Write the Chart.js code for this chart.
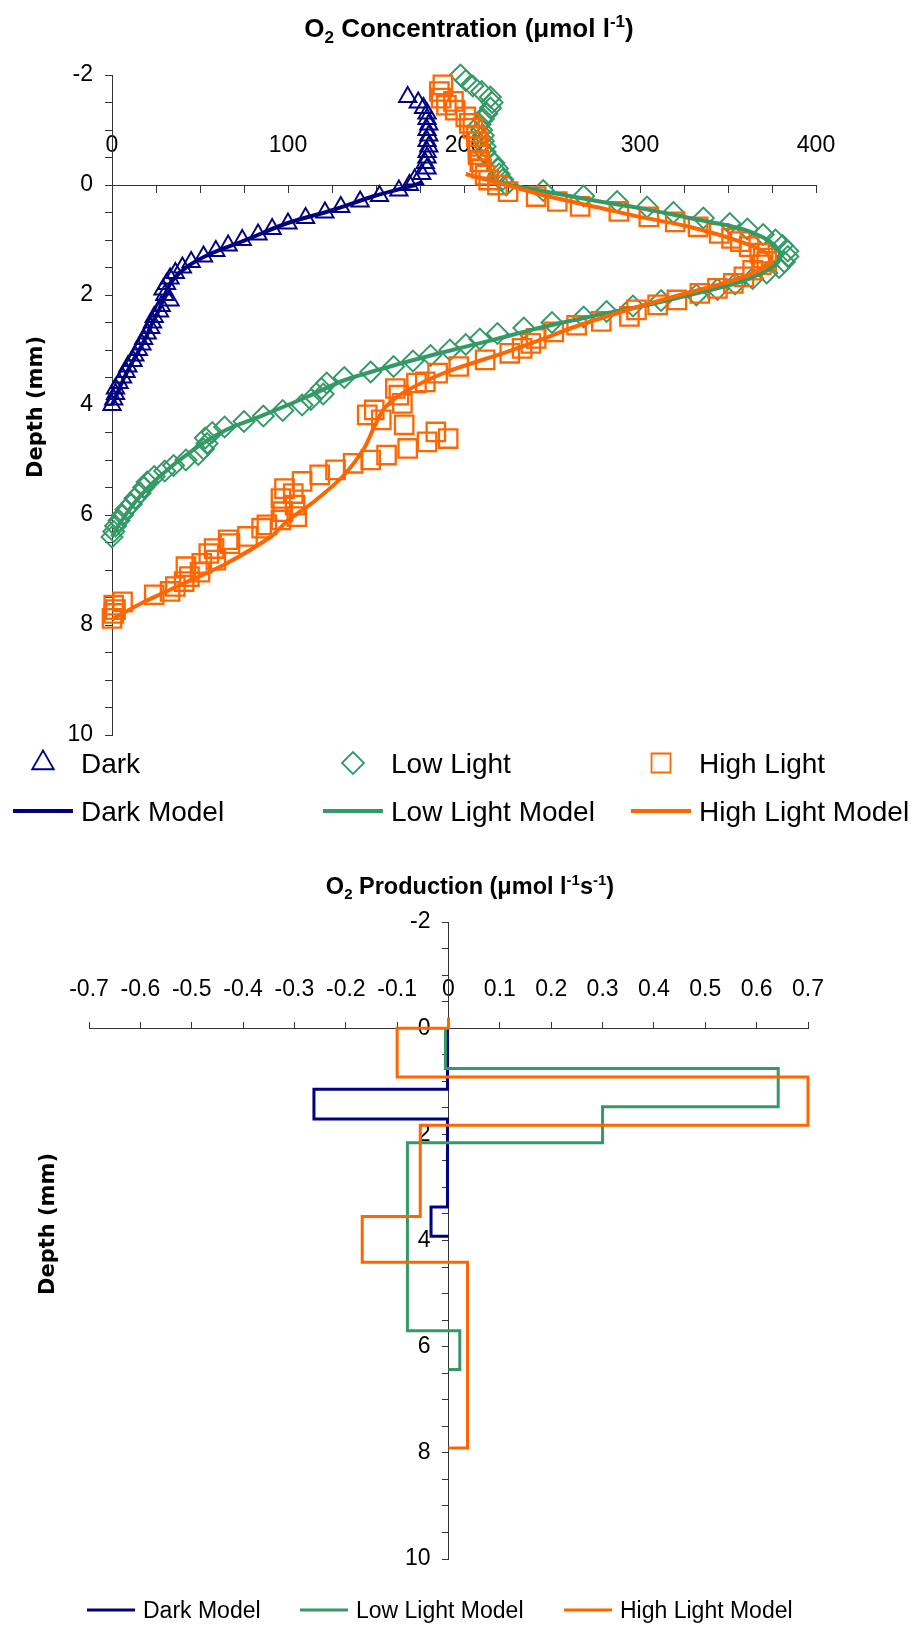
<!DOCTYPE html>
<html lang="en">
<head>
<meta charset="utf-8">
<title>O2 concentration and production profiles</title>
<script src="https://cdn.jsdelivr.net/npm/chart.js@4.4.1/dist/chart.umd.min.js"></script>
<style>
  html, body { margin: 0; padding: 0; background: #fff; }
  .panel { position: relative; width: 914px; }
  #concBox { height: 840px; }
  #prodBox { height: 794px; }
</style>
</head>
<body>
<div class="panel" id="concBox"><canvas id="concChart"></canvas></div>
<div class="panel" id="prodBox"><canvas id="prodChart"></canvas></div>
<script>
// measured O2 profiles: depth in mm (negative = above the surface), O2 in umol/l
const darkDepth = [-1.6, -1.5, -1.4, -1.3, -1.2, -1.1, -1.0, -0.9, -0.8, -0.7, -0.6, -0.5, -0.4, -0.3, -0.2, -0.1, 0,
  0.1, 0.2, 0.3, 0.4, 0.5, 0.6, 0.7, 0.8, 0.9, 1.0, 1.1, 1.2, 1.3, 1.4, 1.5, 1.6, 1.7, 1.8, 1.9, 2.0,
  2.1, 2.2, 2.3, 2.4, 2.5, 2.6, 2.7, 2.8, 2.9, 3.0, 3.1, 3.2, 3.3, 3.4, 3.5, 3.6, 3.7, 3.8, 3.9, 4.0];
const darkO2 = [168, 174, 177, 179, 179, 180, 179, 180, 179, 180, 179, 179, 178, 179, 176, 172, 169,
  163, 152, 141, 130, 121, 110, 100, 91, 83, 74, 66, 59, 52, 45, 40, 36, 33, 31, 29, 30,
  33, 28, 27, 24, 23, 22, 20, 18, 17, 15, 13, 12, 9, 8, 6, 4, 2, 2, 1, 0];

const lowDepth = [-2.0, -1.9, -1.8, -1.7, -1.6, -1.5, -1.4, -1.3, -1.2, -1.1, -1.0, -0.9, -0.8, -0.7, -0.6, -0.5, -0.4, -0.3, -0.2, -0.1,
  0, 0.1, 0.2, 0.3, 0.4, 0.5, 0.6, 0.7, 0.8, 0.9, 1.0, 1.1, 1.2, 1.3, 1.4, 1.5, 1.6, 1.7, 1.8, 1.9,
  2.0, 2.1, 2.2, 2.3, 2.4, 2.5, 2.6, 2.7, 2.8, 2.9, 3.0, 3.1, 3.2, 3.3, 3.4, 3.5, 3.6, 3.7, 3.8, 3.9,
  4.0, 4.1, 4.2, 4.3, 4.4, 4.5, 4.6, 4.7, 4.8, 4.9, 5.0, 5.1, 5.2, 5.3, 5.4, 5.5, 5.6, 5.7, 5.8, 5.9,
  6.0, 6.1, 6.2, 6.3, 6.4];
const lowO2 = [198, 201, 205, 210, 215, 216, 215, 213, 211, 209, 210, 211, 211, 212, 212, 214, 217, 219, 220, 222,
  224, 245, 268, 287, 304, 319, 336, 351, 361, 370, 377, 381, 384, 384, 382, 379, 372, 364, 354, 344,
  332, 312, 296, 281, 268, 250, 234, 219, 209, 201, 192, 181, 171, 160, 147, 132, 122, 119, 120, 113,
  108, 97, 86, 75, 64, 57, 53, 54, 52, 49, 42, 35, 30, 24, 20, 18, 16, 13, 11, 8,
  6, 4, 2, 1, 0];

const highDepth = [-1.82, -1.7, -1.58, -1.52, -1.45, -1.36, -1.24, -1.12, -1.03, -0.88, -0.79, -0.7, -0.62, -0.55, -0.42, -0.3, -0.18, -0.09,
  0, 0.12, 0.21, 0.3, 0.39, 0.48, 0.58, 0.67, 0.76, 0.88, 0.97, 1.03, 1.12, 1.24, 1.33, 1.39, 1.45, 1.55, 1.67, 1.79, 1.88, 1.97,
  2.09, 2.18, 2.27, 2.39, 2.48, 2.55, 2.67, 2.79, 2.88, 2.97, 3.06, 3.18, 3.3, 3.42, 3.58, 3.6, 3.7, 3.82, 3.97,
  4.09, 4.18, 4.27, 4.36, 4.49, 4.61, 4.67, 4.79, 4.91, 5.0, 5.06, 5.18, 5.27, 5.39, 5.52, 5.61, 5.7, 5.82, 5.94,
  6.03, 6.09, 6.18, 6.24, 6.39, 6.45, 6.52, 6.61, 6.7, 6.82, 6.88, 6.94, 7.04, 7.12, 7.21, 7.3, 7.39, 7.45, 7.58, 7.64, 7.72, 7.79, 7.88];
const highO2 = [188, 186, 187, 194, 190, 195, 201, 203, 205, 207, 208, 208, 208, 208, 209, 210, 212, 214,
  219, 225, 241, 253, 266, 288, 305, 320, 333, 345, 352, 357, 362, 368, 370, 372, 369, 364, 359, 353, 344, 334,
  321, 310, 298, 294, 278, 264, 251, 241, 238, 233, 226, 212, 197, 185, 178, 173, 161, 163, 165,
  149, 145, 153, 166, 184, 191, 179, 168, 156, 147, 137, 127, 118, 108, 98, 103, 96, 104, 97,
  105, 96, 88, 85, 77, 66, 67, 58, 55, 59, 51, 42, 50, 44, 41, 36, 33, 24, 6, 1, 2, 1, 0];

// fitted diffusion-reaction model curves
const darkModelDepth = [-0.05, 0, 0.2, 0.45, 0.7, 1.0, 1.25, 1.5, 1.75, 2.0, 2.25, 2.5, 2.75, 3.0, 3.25, 3.5, 3.75, 4.0];
const darkModelO2 = [176, 172, 149, 126, 99, 76, 56, 42, 34, 30, 27, 23, 19.5, 15.5, 11, 7, 3.5, 0];
const lowModelDepth = [-0.1, 0, 0.1, 0.3, 0.42, 0.6, 0.79, 1.03, 1.27, 1.48, 1.76, 2.0, 2.21, 2.39, 2.58, 2.82, 3.06, 3.3, 3.55, 3.85, 4.21, 4.45, 4.82, 5.3, 5.73, 6.15, 6.4];
const lowModelO2 = [214, 226, 243, 277, 300, 328, 357, 374, 380, 376, 357, 328, 300, 272, 245, 216, 186, 158, 132, 111, 84, 65, 46, 27, 14, 4.5, 0];
const highModelDepth = [-0.2, 0, 0.2, 0.4, 0.58, 0.76, 1.03, 1.24, 1.39, 1.58, 1.79, 2.03, 2.3, 2.6, 2.82, 3.06, 3.4, 3.75, 4.05, 4.4, 4.8, 5.3, 5.75, 6.1, 6.4, 6.88, 7.3, 7.6, 7.9];
const highModelO2 = [201, 224, 247, 275, 300, 328, 357, 372, 374, 366, 347, 319, 290, 261, 243, 222, 190, 167, 155, 149, 143, 131, 115, 100, 90, 65, 37, 17, 0];

// layer-wise O2 production (umol l-1 s-1); each rate holds from its depth down to the next one
const darkRateDepth = [0, 1.15, 1.71, 3.37, 3.92];
const darkRate = [-0.002, -0.262, -0.002, -0.034, 0];
const lowRateDepth = [0, 0.76, 1.48, 2.16, 5.70, 6.43];
const lowRate = [-0.006, 0.642, 0.30, -0.08, 0.022, 0];
const highRateDepth = [-0.2, 0, 0.92, 1.83, 3.55, 4.41, 7.91];
const highRate = [0, -0.1, 0.7, -0.055, -0.168, 0.037, 0];

// labelled ticks
const concTicks = [0, 100, 200, 300, 400];
const depthTicks = [-2, 0, 2, 4, 6, 8, 10];
const rateTicks = [-0.7, -0.6, -0.5, -0.4, -0.3, -0.2, -0.1, 0, 0.1, 0.2, 0.3, 0.4, 0.5, 0.6, 0.7];

const NAVY = '#000080';
const GREEN = '#339966';
const ORANGE = '#FF6600';
const AXIS = '#333333';
const SANS = "'Liberation Sans', Arial, sans-serif";
const HEAD = "'DejaVu Sans', Verdana, sans-serif";

const profile = (depth, vals) => depth.map((d, i) => ({ x: vals[i], y: d }));

// title with sub/superscripts plus a rotated depth label
const headings = {
  id: 'headings',
  afterDraw(chart, args, opts) {
    const { ctx } = chart;
    const size = opts.size;
    const fontOf = kind => `bold ${kind ? Math.round(size * 0.65) : size}px ${SANS}`;
    ctx.save();
    ctx.fillStyle = '#000';
    ctx.textBaseline = 'alphabetic';
    ctx.textAlign = 'left';
    let total = 0;
    opts.parts.forEach(([txt, kind]) => { ctx.font = fontOf(kind); total += ctx.measureText(txt).width; });
    let x = opts.titleX - total / 2;
    opts.parts.forEach(([txt, kind]) => {
      ctx.font = fontOf(kind);
      const dy = kind === 'sub' ? size * 0.22 : kind === 'sup' ? -size * 0.4 : 0;
      ctx.fillText(txt, x, opts.titleY + dy);
      x += ctx.measureText(txt).width;
    });
    ctx.translate(opts.axisX, opts.axisY);
    ctx.rotate(-Math.PI / 2);
    ctx.textAlign = 'center';
    ctx.textBaseline = 'middle';
    ctx.font = `bold ${opts.axisSize}px ${HEAD}`;
    ctx.fillText('Depth (mm)', 0, 0);
    ctx.restore();
  }
};

// fixed-column legend: one column per treatment, one row per series kind
const gridLegend = {
  id: 'gridLegend',
  afterDraw(chart, args, opts) {
    const { ctx } = chart;
    const cols = opts.columns.length;
    ctx.save();
    chart.data.datasets.forEach((ds, i) => {
      const x = opts.columns[i % cols];
      const y = opts.rows[Math.floor(i / cols)];
      ctx.strokeStyle = ds.borderColor;
      if (ds.showLine) {
        ctx.lineWidth = opts.lineWidth;
        ctx.beginPath();
        ctx.moveTo(x, y);
        ctx.lineTo(x + opts.swatch, y);
        ctx.stroke();
      } else {
        ctx.fillStyle = 'rgba(0,0,0,0)';
        ctx.lineWidth = opts.markerBorder;
        Chart.helpers.drawPoint(ctx, {
          pointStyle: ds.pointStyle,
          radius: opts.markerRadius[ds.pointStyle],
          borderWidth: opts.markerBorder,
          rotation: 0
        }, x + opts.swatch / 2, y);
      }
      ctx.fillStyle = '#000';
      ctx.font = `${opts.fontSize}px ${SANS}`;
      ctx.textBaseline = 'alphabetic';
      ctx.textAlign = 'left';
      ctx.fillText(ds.label, x + opts.swatch + opts.gap, y + opts.fontSize * 0.36);
    });
    ctx.restore();
  }
};

// a y axis pinned with position {x: 0} puts its labels right on the axis line;
// push them left by the tick length plus a small gap
const pinnedLabelGap = {
  id: 'pinnedLabelGap',
  beforeDraw(chart, args, opts) {
    const scale = chart.scales.y;
    for (const item of scale.getLabelItems()) {
      if (!item.gapApplied) {
        item.options.translation[0] -= opts.gap;
        item.gapApplied = true;
      }
    }
  }
};

const pointSet = (label, data, color, style, radius, width, order) => ({
  label, data, order, clip: false, showLine: false,
  pointStyle: style, pointRadius: radius, pointHoverRadius: radius,
  borderColor: color, pointBorderColor: color, pointBackgroundColor: 'rgba(0,0,0,0)',
  pointBorderWidth: width, pointHoverBorderWidth: width
});
const modelSet = (label, data, color, width, order, extra) => Object.assign({
  label, data, order, clip: false, showLine: true, fill: false,
  borderColor: color, borderWidth: width, pointRadius: 0, pointHoverRadius: 0
}, extra);

const tickFont = { family: SANS, size: 23 };
const axisGrid = len => ({ drawOnChartArea: false, tickLength: len, color: AXIS, tickColor: AXIS, tickWidth: 1 });

new Chart(document.getElementById('concChart'), {
  type: 'scatter',
  data: {
    datasets: [
      pointSet('Dark', profile(darkDepth, darkO2), NAVY, 'triangle', 10, 1.9, 6),
      pointSet('Low Light', profile(lowDepth, lowO2), GREEN, 'rectRot', 10.5, 1.9, 5),
      pointSet('High Light', profile(highDepth, highO2), ORANGE, 'rect', 13, 2.3, 4),
      modelSet('Dark Model', profile(darkModelDepth, darkModelO2), NAVY, 4, 3, { tension: 0.3 }),
      modelSet('Low Light Model', profile(lowModelDepth, lowModelO2), GREEN, 4, 2, { tension: 0.3 }),
      modelSet('High Light Model', profile(highModelDepth, highModelO2), ORANGE, 4, 1, { tension: 0.3 })
    ]
  },
  options: {
    responsive: true,
    maintainAspectRatio: false,
    animation: false,
    events: [],
    layout: { padding: { left: 0, right: 98, top: 75, bottom: 105 } },
    scales: {
      x: {
        type: 'linear', min: 0, max: 400,
        position: { y: 0 },
        grid: axisGrid(7),
        border: { color: AXIS, width: 1 },
        ticks: {
          stepSize: 25, autoSkip: false, maxRotation: 0, padding: -60,
          color: '#000', font: tickFont,
          callback: v => concTicks.includes(v) ? String(v) : ''
        }
      },
      y: {
        type: 'linear', min: -2, max: 10, reverse: true, position: 'left',
        afterFit: scale => { scale.width = 112; },
        grid: axisGrid(7),
        border: { color: AXIS, width: 1 },
        ticks: {
          stepSize: 0.5, autoSkip: false, padding: 12,
          color: '#000', font: tickFont,
          callback: v => depthTicks.includes(v) ? String(v) : ''
        }
      }
    },
    plugins: {
      legend: { display: false },
      tooltip: { enabled: false },
      headings: {
        size: 26, titleX: 469, titleY: 37, axisX: 37, axisY: 407, axisSize: 21,
        parts: [['O', ''], ['2', 'sub'], [' Concentration (\u03bcmol l', ''], ['-1', 'sup'], [')', '']]
      },
      gridLegend: {
        columns: [13, 323, 631], rows: [763, 811], swatch: 60, gap: 8,
        fontSize: 28, lineWidth: 4, markerBorder: 1.8,
        markerRadius: { triangle: 12.5, rectRot: 11, rect: 13.4 }
      }
    }
  },
  plugins: [headings, gridLegend]
});

new Chart(document.getElementById('prodChart'), {
  type: 'scatter',
  data: {
    datasets: [
      modelSet('Dark Model', profile(darkRateDepth, darkRate), NAVY, 3, 3, { stepped: 'after' }),
      modelSet('Low Light Model', profile(lowRateDepth, lowRate), GREEN, 3, 2, { stepped: 'after' }),
      modelSet('High Light Model', profile(highRateDepth, highRate), ORANGE, 3, 1, { stepped: 'after' })
    ]
  },
  options: {
    responsive: true,
    maintainAspectRatio: false,
    animation: false,
    events: [],
    layout: { padding: { left: 89, right: 106, top: 82, bottom: 75 } },
    scales: {
      x: {
        type: 'linear', min: -0.7, max: 0.7,
        position: { y: 0 },
        afterBuildTicks: axis => { axis.ticks = rateTicks.map(v => ({ value: v })); },
        grid: axisGrid(-7),
        border: { color: AXIS, width: 1 },
        ticks: {
          autoSkip: false, maxRotation: 0, padding: -45,
          color: '#000', font: tickFont,
          callback: v => Math.abs(v) < 1e-9 ? '0' : v.toFixed(1)
        }
      },
      y: {
        type: 'linear', min: -2, max: 10, reverse: true,
        position: { x: 0 },
        grid: axisGrid(6),
        border: { color: AXIS, width: 1 },
        ticks: {
          stepSize: 0.5, autoSkip: false, padding: 12,
          color: '#000', font: tickFont,
          callback: v => depthTicks.includes(v) ? String(v) : ''
        }
      }
    },
    plugins: {
      legend: { display: false },
      tooltip: { enabled: false },
      pinnedLabelGap: { gap: 18 },
      headings: {
        size: 23.5, titleX: 470, titleY: 54, axisX: 49, axisY: 384, axisSize: 21,
        parts: [['O', ''], ['2', 'sub'], [' Production (\u03bcmol l', ''], ['-1', 'sup'], ['s', ''], ['-1', 'sup'], [')', '']]
      },
      gridLegend: {
        columns: [87, 300, 564], rows: [770], swatch: 48, gap: 8,
        fontSize: 23, lineWidth: 3, markerBorder: 1.5, markerRadius: {}
      }
    }
  },
  plugins: [pinnedLabelGap, headings, gridLegend]
});
</script>
</body>
</html>
